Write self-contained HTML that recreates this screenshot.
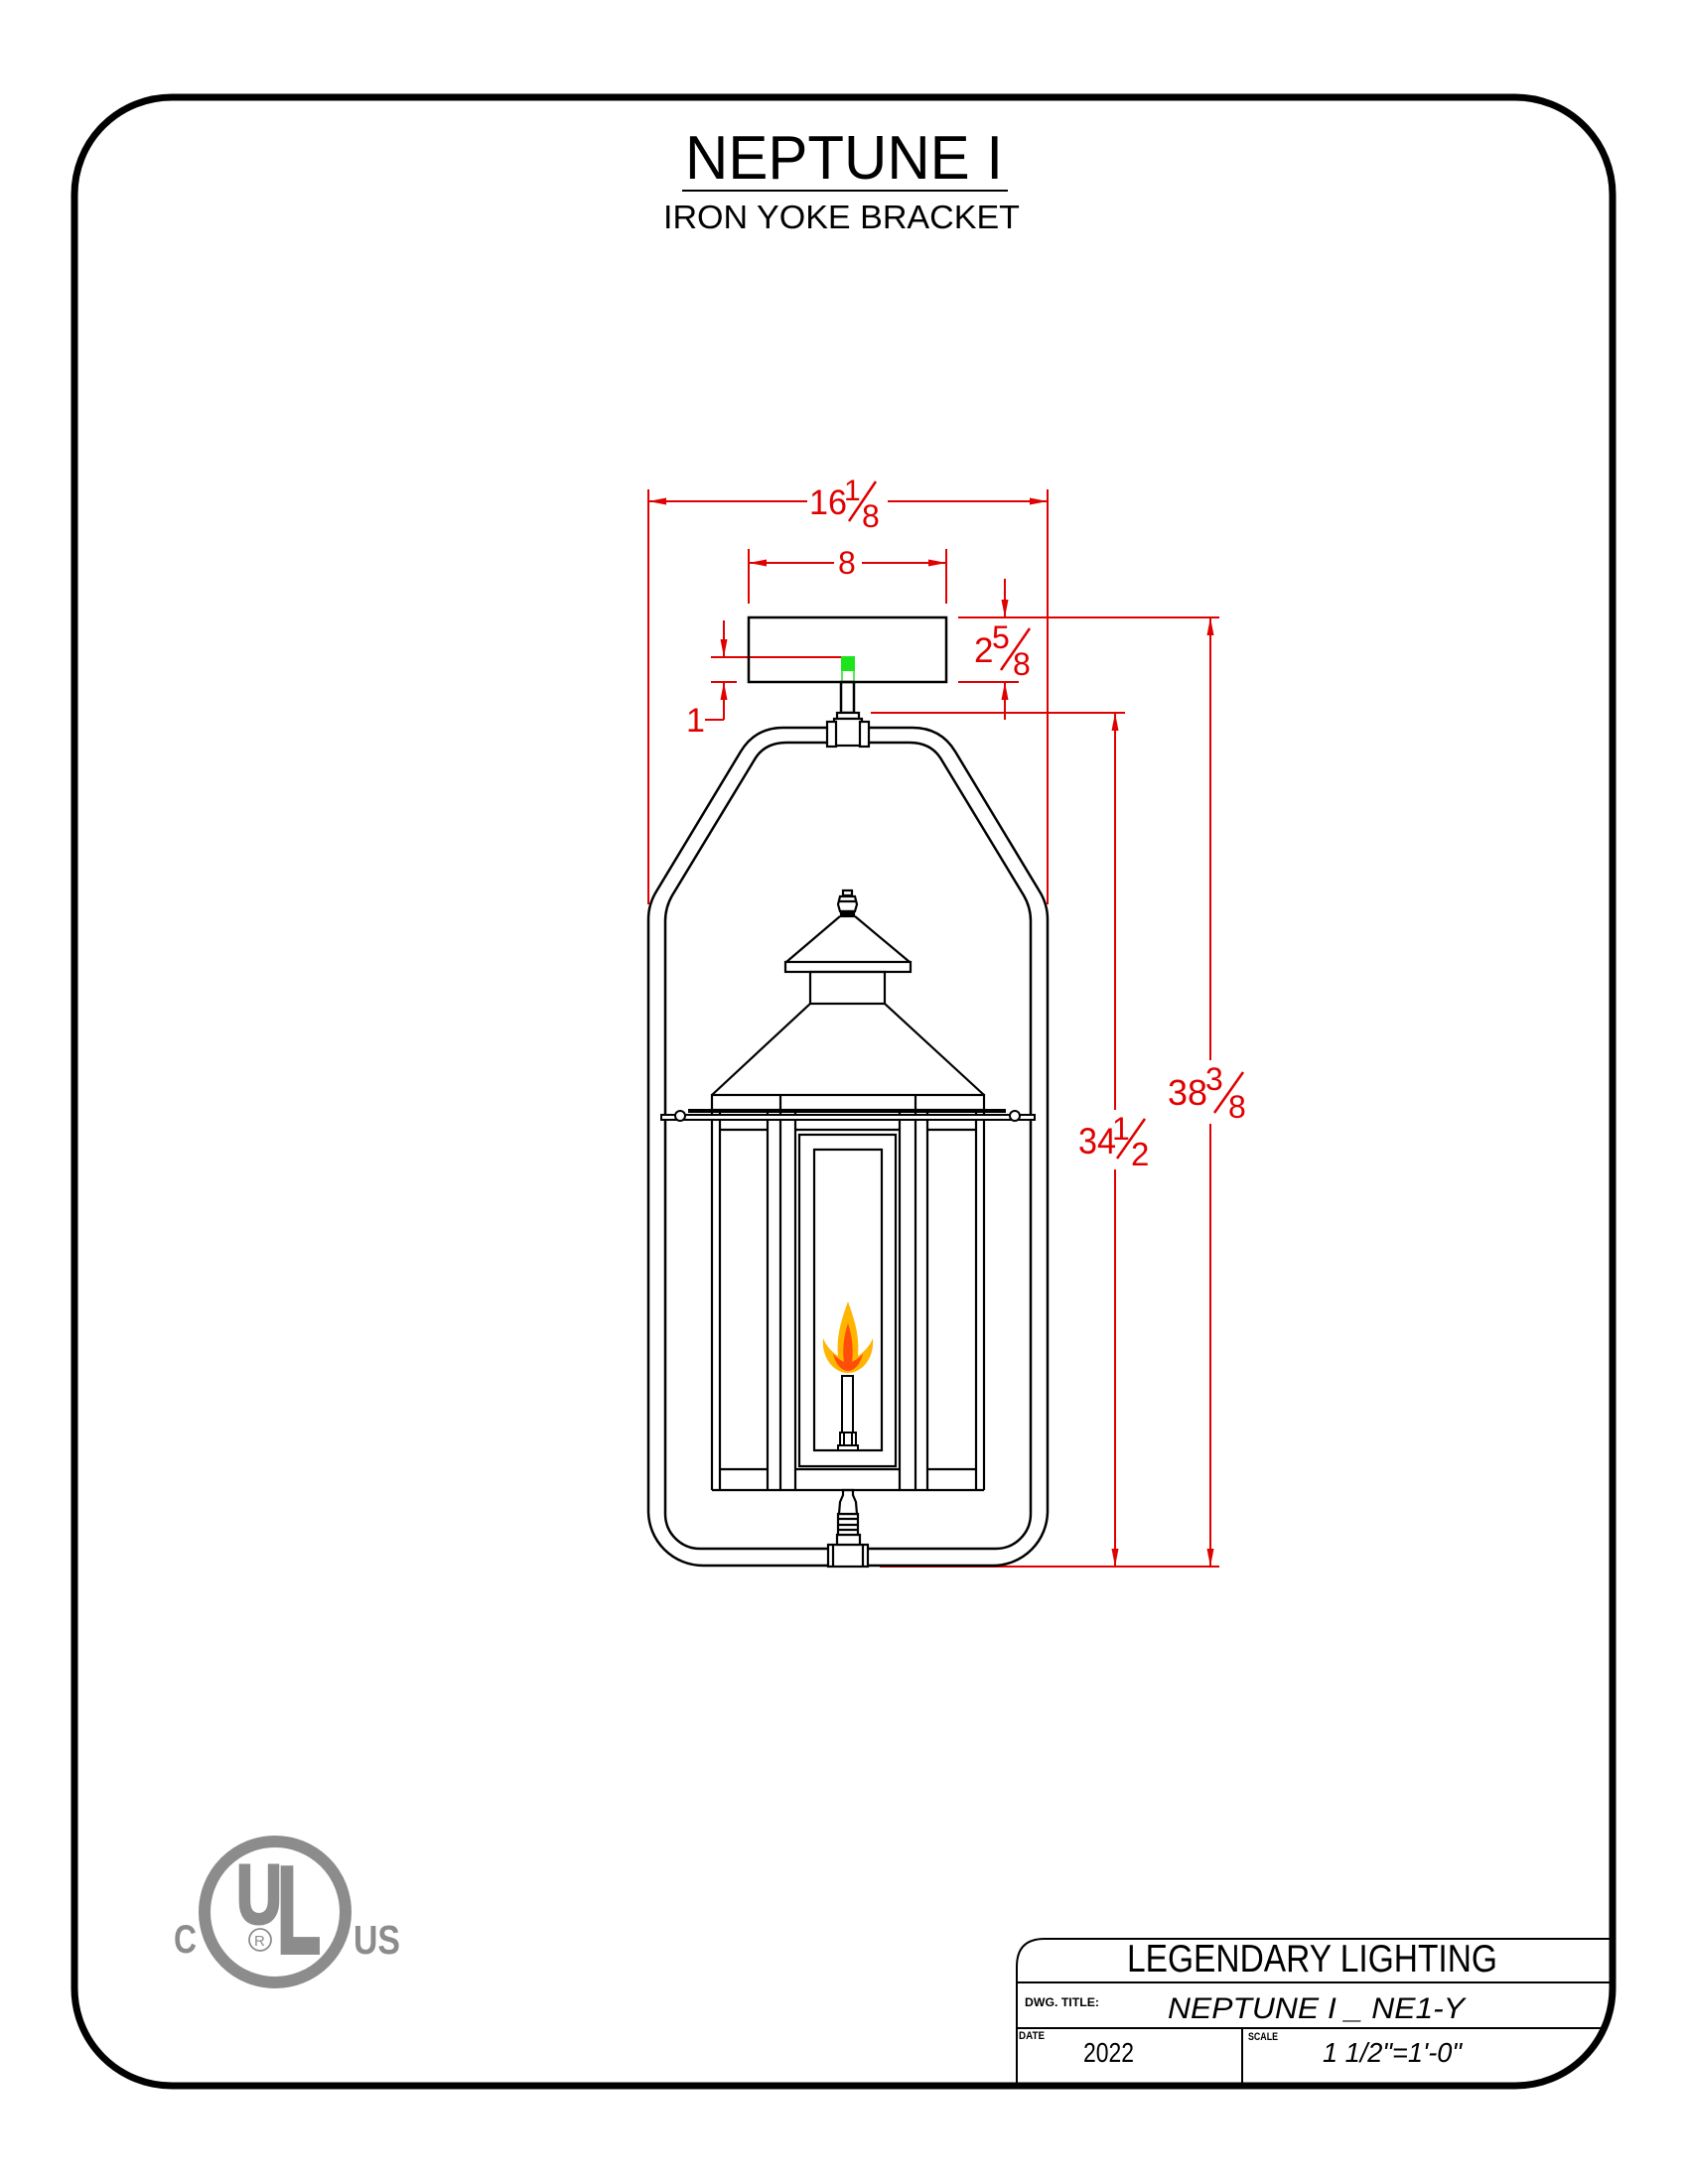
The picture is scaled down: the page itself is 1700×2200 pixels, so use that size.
<!DOCTYPE html>
<html>
<head>
<meta charset="utf-8">
<style>
  html,body{margin:0;padding:0;background:#fff;}
  svg{display:block;}
  .r{fill:#e00000;font-family:"Liberation Sans",sans-serif;}
  .k{fill:#000;font-family:"Liberation Sans",sans-serif;}
</style>
</head>
<body>
<svg width="1700" height="2200" viewBox="0 0 1700 2200" xmlns="http://www.w3.org/2000/svg">
  <rect x="0" y="0" width="1700" height="2200" fill="#fff"/>
  <!-- page border -->
  <rect x="75" y="98" width="1549" height="2003" rx="98" ry="98" fill="none" stroke="#000" stroke-width="7"/>

  <!-- Title -->
  <text class="k" x="690" y="180" font-size="62" textLength="320" lengthAdjust="spacingAndGlyphs">NEPTUNE I</text>
  <line x1="687" y1="192" x2="1015" y2="192" stroke="#000" stroke-width="2"/>
  <text class="k" x="668" y="230" font-size="33" textLength="359" lengthAdjust="spacingAndGlyphs">IRON YOKE BRACKET</text>

  <!-- ============ DIMENSIONS (red) ============ -->
  <g stroke="#e00000" stroke-width="2" fill="none">
    <!-- 16 1/8 -->
    <line x1="653" y1="493" x2="653" y2="911"/>
    <line x1="1055" y1="493" x2="1055" y2="911"/>
    <line x1="653" y1="505" x2="813" y2="505"/>
    <line x1="894" y1="505" x2="1055" y2="505"/>
    <!-- 8 -->
    <line x1="754" y1="553" x2="754" y2="608"/>
    <line x1="953" y1="553" x2="953" y2="608"/>
    <line x1="754" y1="567" x2="840" y2="567"/>
    <line x1="868" y1="567" x2="953" y2="567"/>
    <!-- 2 5/8 -->
    <line x1="965" y1="622" x2="1228" y2="622"/>
    <line x1="965" y1="687" x2="1026" y2="687"/>
    <line x1="1012" y1="583" x2="1012" y2="622"/>
    <line x1="1012" y1="687" x2="1012" y2="725"/>
    <!-- 1 -->
    <line x1="716" y1="662" x2="847" y2="662"/>
    <line x1="716" y1="687" x2="742" y2="687"/>
    <line x1="729" y1="625" x2="729" y2="662"/>
    <line x1="729" y1="687" x2="729" y2="725"/>
    <line x1="710" y1="725" x2="729" y2="725"/>
    <!-- 34 1/2 -->
    <line x1="877" y1="718" x2="1133" y2="718"/>
    <line x1="1123" y1="718" x2="1123" y2="1118"/>
    <line x1="1123" y1="1178" x2="1123" y2="1578"/>
    <!-- 38 3/8 -->
    <line x1="1219" y1="622" x2="1219" y2="1068"/>
    <line x1="1219" y1="1132" x2="1219" y2="1578"/>
    <!-- bottom ext -->
    <line x1="886" y1="1578" x2="1228" y2="1578"/>
    <!-- fraction slashes -->
    <line x1="882" y1="485" x2="855" y2="525" stroke-width="2.5"/>
    <line x1="1037" y1="633" x2="1008" y2="675" stroke-width="2.5"/>
    <line x1="1153" y1="1127" x2="1125" y2="1167" stroke-width="2.5"/>
    <line x1="1252" y1="1080" x2="1223" y2="1121" stroke-width="2.5"/>
  </g>
  <g fill="#e00000">
    <!-- arrows -->
    <polygon points="653,505 671,501.5 671,508.5"/>
    <polygon points="1055,505 1037,501.5 1037,508.5"/>
    <polygon points="754,567 772,563.5 772,570.5"/>
    <polygon points="953,567 935,563.5 935,570.5"/>
    <polygon points="1012,622 1008.5,604 1015.5,604"/>
    <polygon points="1012,687 1008.5,705 1015.5,705"/>
    <polygon points="729,662 725.5,644 732.5,644"/>
    <polygon points="729,687 725.5,705 732.5,705"/>
    <polygon points="1123,718 1119.5,736 1126.5,736"/>
    <polygon points="1123,1578 1119.5,1560 1126.5,1560"/>
    <polygon points="1219,622 1215.5,640 1222.5,640"/>
    <polygon points="1219,1578 1215.5,1560 1222.5,1560"/>
  </g>
  <!-- dimension texts -->
  <text class="r" x="815" y="518" font-size="35" textLength="38" lengthAdjust="spacingAndGlyphs">16</text>
  <text class="r" x="850" y="504" font-size="30">1</text>
  <text class="r" x="868" y="531" font-size="32">8</text>

  <text class="r" x="844" y="578" font-size="32">8</text>

  <text class="r" x="981" y="667" font-size="35">2</text>
  <text class="r" x="999" y="653" font-size="32">5</text>
  <text class="r" x="1020" y="680" font-size="32">8</text>

  <text class="r" x="691" y="737" font-size="34">1</text>

  <text class="r" x="1086" y="1162" font-size="37" textLength="38" lengthAdjust="spacingAndGlyphs">34</text>
  <text class="r" x="1120" y="1148" font-size="32">1</text>
  <text class="r" x="1139" y="1174" font-size="33">2</text>

  <text class="r" x="1176" y="1113" font-size="36" textLength="40" lengthAdjust="spacingAndGlyphs">38</text>
  <text class="r" x="1214" y="1098" font-size="32">3</text>
  <text class="r" x="1237" y="1126" font-size="32">8</text>

  <!-- ============ CANOPY BOX ============ -->
  <rect x="754" y="622" width="199" height="65" fill="none" stroke="#000" stroke-width="2.5"/>
  <rect x="847" y="661" width="14" height="15" fill="#1ee41e"/>
  <line x1="848" y1="676" x2="848" y2="687" stroke="#1ee41e" stroke-width="1.5"/>
  <line x1="860" y1="676" x2="860" y2="687" stroke="#1ee41e" stroke-width="1.5"/>

  <!-- ============ YOKE ============ -->
  <g fill="none" stroke="#000" stroke-width="2.5">
    <!-- stem -->
    <rect x="847" y="687" width="13" height="31"/>
    <!-- outer -->
    <path d="M 833,733 L 789,733 Q 760.5,733 746,757 L 661,898 Q 653,911 653,926 L 653,1522 A 55 55 0 0 0 708,1577 L 834,1577"/>
    <path d="M 874,1577 L 1000,1577 A 55 55 0 0 0 1055,1522 L 1055,926 Q 1055,911 1047,898 L 962,757 Q 947.5,733 919,733 L 875,733"/>
    <!-- inner -->
    <path d="M 833,748 L 792,748 Q 770,748 760,765 L 677,902 Q 670,914 670,928 L 670,1525 A 35 35 0 0 0 705,1560 L 834,1560"/>
    <path d="M 874,1560 L 1003,1560 A 35 35 0 0 0 1038,1525 L 1038,928 Q 1038,914 1031,902 L 948,765 Q 938,748 916,748 L 875,748"/>
  </g>
  <!-- top T fitting -->
  <g fill="#fff" stroke="#000" stroke-width="2.2">
    <rect x="843" y="718" width="22" height="6"/>
    <rect x="840" y="724" width="28" height="27"/>
    <rect x="833" y="727" width="9" height="25"/>
    <rect x="866" y="727" width="9" height="25"/>
  </g>
  <!-- bottom fitting -->
  <g fill="#fff" stroke="#000" stroke-width="2.2">
    <rect x="834" y="1556" width="40" height="22"/>
    <line x1="839" y1="1556" x2="839" y2="1578"/>
    <line x1="869" y1="1556" x2="869" y2="1578"/>
    <rect x="843" y="1546" width="23" height="10"/>
    <rect x="844" y="1525" width="20" height="21"/>
    <line x1="844" y1="1530" x2="864" y2="1530"/>
    <line x1="844" y1="1536" x2="864" y2="1536"/>
    <line x1="844" y1="1541" x2="864" y2="1541"/>
    <path d="M849,1501 L859,1501 L859,1506 L862,1513 L863,1525 L845,1525 L846,1513 L849,1506 Z"/>
  </g>

  <!-- ============ LANTERN ============ -->
  <g fill="none" stroke="#000" stroke-width="2.2">
    <!-- finial -->
    <rect x="849" y="897" width="9" height="5"/>
    <path d="M846,903 L861,903 L863,911 L861,918 L846,918 L844,911 Z"/>
    <line x1="845" y1="908" x2="862" y2="908"/>
    <rect x="847" y="918" width="13" height="5" fill="#000"/>
    <!-- small roof -->
    <path d="M846,923 L792,969 M861,923 L916,969"/>
    <rect x="791" y="969" width="126" height="10"/>
    <!-- chimney -->
    <rect x="816" y="979" width="75" height="32"/>
    <!-- big roof -->
    <line x1="816" y1="1011" x2="717" y2="1103"/>
    <line x1="891" y1="1011" x2="991" y2="1103"/>
    <rect x="717" y="1103" width="274" height="15"/>
    <line x1="786" y1="1103" x2="786" y2="1118"/>
    <line x1="922" y1="1103" x2="922" y2="1118"/>
    <!-- body verticals -->
    <line x1="717" y1="1118" x2="717" y2="1501"/>
    <line x1="725" y1="1118" x2="725" y2="1501"/>
    <line x1="773" y1="1118" x2="773" y2="1501"/>
    <line x1="786" y1="1118" x2="786" y2="1501"/>
    <line x1="801" y1="1118" x2="801" y2="1501"/>
    <line x1="906" y1="1118" x2="906" y2="1501"/>
    <line x1="922" y1="1118" x2="922" y2="1501"/>
    <line x1="934" y1="1118" x2="934" y2="1501"/>
    <line x1="983" y1="1118" x2="983" y2="1501"/>
    <line x1="991" y1="1118" x2="991" y2="1501"/>
    <!-- panel horizontals -->
    <line x1="725" y1="1138" x2="773" y2="1138"/>
    <line x1="801" y1="1138" x2="906" y2="1138"/>
    <line x1="934" y1="1138" x2="983" y2="1138"/>
    <line x1="725" y1="1480" x2="773" y2="1480"/>
    <line x1="801" y1="1480" x2="906" y2="1480"/>
    <line x1="934" y1="1480" x2="983" y2="1480"/>
    <rect x="805" y="1143" width="97" height="334"/>
    <rect x="820" y="1158" width="68" height="303"/>
    <line x1="717" y1="1501" x2="991" y2="1501"/>
  </g>
  <!-- crossbar -->
  <rect x="693" y="1117" width="320" height="4" fill="#000"/>
  <rect x="666" y="1123" width="376" height="5" fill="#fff" stroke="#000" stroke-width="2"/>
  <circle cx="685" cy="1124" r="5" fill="#fff" stroke="#000" stroke-width="2"/>
  <circle cx="1022" cy="1124" r="5" fill="#fff" stroke="#000" stroke-width="2"/>

  <!-- flame -->
  <path d="M854,1311 C860,1328 866,1345 864,1366 C870,1362 876,1356 879,1348 C881,1368 868,1383 854,1383 C840,1383 827,1368 829,1348 C832,1356 838,1362 844,1366 C842,1345 848,1328 854,1311 Z" fill="#ffb400"/>
  <path d="M854,1333 C858,1345 860,1360 858,1372 C862,1370 866,1367 869,1364 C866,1375 860,1381 854,1381 C848,1381 842,1375 839,1364 C842,1367 846,1370 850,1372 C848,1360 850,1345 854,1333 Z" fill="#ff4e0a"/>
  <!-- burner -->
  <g fill="#fff" stroke="#000" stroke-width="2">
    <rect x="848" y="1386" width="11" height="57"/>
    <rect x="846" y="1443" width="16" height="13"/>
    <line x1="850" y1="1443" x2="850" y2="1456"/>
    <line x1="858" y1="1443" x2="858" y2="1456"/>
    <rect x="844" y="1456" width="20" height="5"/>
  </g>

  <!-- ============ UL LOGO ============ -->
  <g fill="#8c8c8c" font-family="'Liberation Sans',sans-serif" font-weight="bold">
    <circle cx="277" cy="1926" r="71" fill="none" stroke="#8c8c8c" stroke-width="12"/>
    <text x="238" y="1937" font-size="84" textLength="46" lengthAdjust="spacingAndGlyphs" stroke="#8c8c8c" stroke-width="3">U</text>
    <text x="279" y="1967" font-size="124" textLength="44" lengthAdjust="spacingAndGlyphs" stroke="#8c8c8c" stroke-width="4">L</text>
    <circle cx="262" cy="1954" r="11" fill="none" stroke="#8c8c8c" stroke-width="1.8"/>
    <text x="256" y="1960" font-size="15" font-weight="normal">R</text>
    <text x="175" y="1967" font-size="40" textLength="23" lengthAdjust="spacingAndGlyphs">C</text>
    <text x="356" y="1968" font-size="41" textLength="47" lengthAdjust="spacingAndGlyphs">US</text>
  </g>

  <!-- ============ TITLE BLOCK ============ -->
  <g fill="none" stroke="#000" stroke-width="2">
    <path d="M 1024,2101 L 1024,1981 Q 1024,1953 1052,1953 L 1622,1953"/>
    <line x1="1024" y1="1997" x2="1622" y2="1997"/>
    <line x1="1024" y1="2043" x2="1616" y2="2043"/>
    <line x1="1251" y1="2043" x2="1251" y2="2101"/>
  </g>
  <text class="k" x="1135" y="1986" font-size="39" textLength="373" lengthAdjust="spacingAndGlyphs">LEGENDARY LIGHTING</text>
  <text class="k" x="1032" y="2021" font-size="12" font-weight="bold" textLength="75" lengthAdjust="spacingAndGlyphs">DWG. TITLE:</text>
  <text class="k" x="1176" y="2033" font-size="30" font-style="italic" textLength="299" lengthAdjust="spacingAndGlyphs">NEPTUNE I _ NE1-Y</text>
  <text class="k" x="1026" y="2054" font-size="11" font-weight="bold" textLength="26" lengthAdjust="spacingAndGlyphs">DATE</text>
  <text class="k" x="1257" y="2055" font-size="11" font-weight="bold" textLength="30" lengthAdjust="spacingAndGlyphs">SCALE</text>
  <text class="k" x="1091" y="2077" font-size="28" textLength="51" lengthAdjust="spacingAndGlyphs">2022</text>
  <text class="k" x="1332" y="2077" font-size="28" font-style="italic" textLength="140" lengthAdjust="spacingAndGlyphs">1 1/2"=1'-0"</text>
</svg>
</body>
</html>
